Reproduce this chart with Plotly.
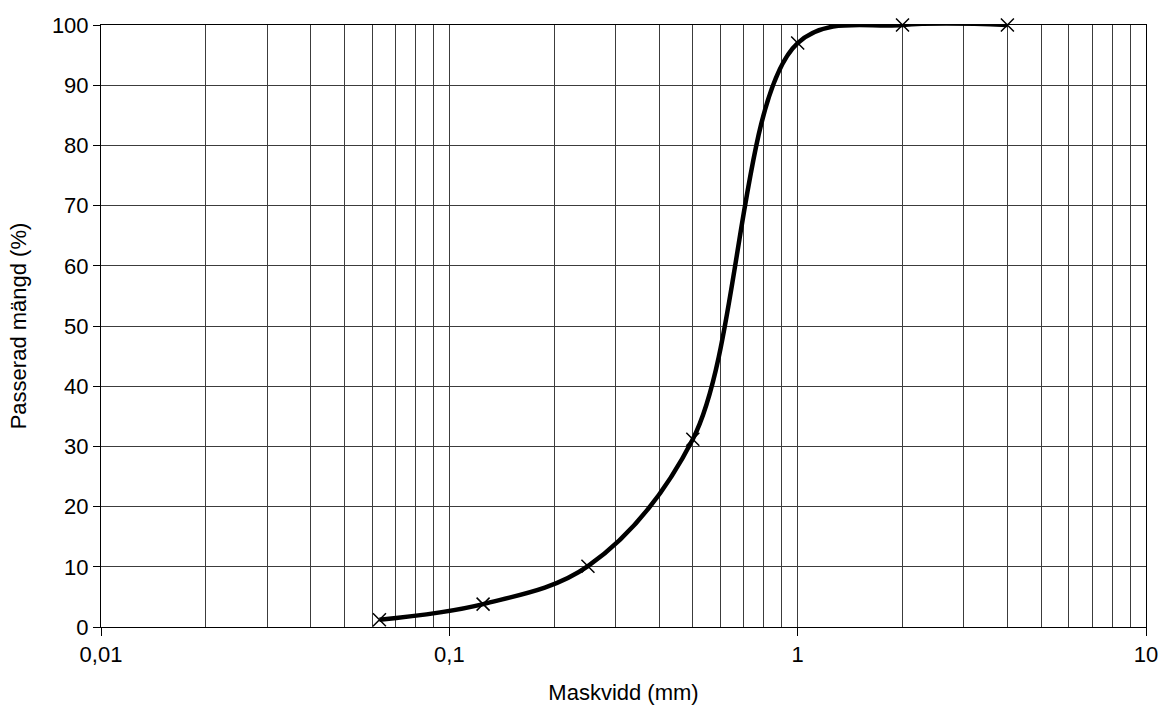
import plotly.graph_objects as go

# Sieve analysis: mesh size (mm) vs passing amount (%)
mesh_mm = [0.063, 0.125, 0.25, 0.5, 1.0, 2.0, 4.0]
passing_pct = [1.2, 3.8, 10.1, 31.2, 97.0, 100.0, 100.0]

x_tick_vals = [0.01, 0.1, 1, 10]
x_tick_text = ["0,01", "0,1", "1", "10"]
y_tick_vals = [0, 10, 20, 30, 40, 50, 60, 70, 80, 90, 100]

FONT = "Liberation Sans, Arial, sans-serif"
GRID = "#3c3c3c"

fig = go.Figure()
fig.add_trace(go.Scatter(
    x=mesh_mm,
    y=passing_pct,
    mode="lines+markers",
    line=dict(color="black", width=4.5, shape="spline", smoothing=1),
    marker=dict(symbol="x-thin", size=13, line=dict(color="black", width=1.5)),
    showlegend=False,
    cliponaxis=False,
))

fig.update_layout(
    width=1162,
    height=708,
    margin=dict(l=101, r=16, t=25, b=81),
    paper_bgcolor="white",
    plot_bgcolor="white",
    font=dict(family=FONT, size=22, color="black"),
    xaxis=dict(
        type="log",
        range=[-2, 1],
        tickvals=x_tick_vals,
        ticktext=x_tick_text,
        ticks="outside",
        ticklen=8,
        tickcolor="black",
        showgrid=True,
        gridcolor=GRID,
        gridwidth=1,
        minor=dict(dtick="D1", showgrid=True, gridcolor=GRID, gridwidth=1, ticks=""),
        showline=True,
        linecolor="black",
        linewidth=1,
        mirror=True,
        zeroline=False,
        automargin=False,
        title=dict(text="Maskvidd (mm)", font=dict(size=22), standoff=18),
        tickfont=dict(size=22),
    ),
    yaxis=dict(
        range=[0, 100],
        tickvals=y_tick_vals,
        ticks="outside",
        ticklen=7,
        tickcolor="black",
        showgrid=True,
        gridcolor=GRID,
        gridwidth=1,
        showline=True,
        linecolor="black",
        linewidth=1,
        mirror=True,
        zeroline=False,
        automargin=False,
        title=dict(text="Passerad mängd (%)", font=dict(size=22), standoff=19),
        tickfont=dict(size=22),
    ),
)

fig.write_html("out.html")
